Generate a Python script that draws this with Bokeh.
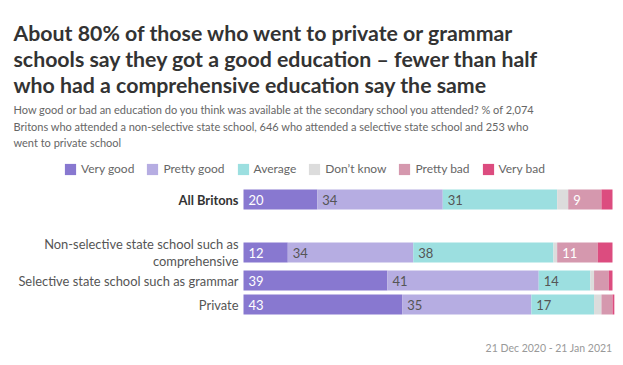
from bokeh.plotting import figure
from bokeh.models import ColumnDataSource, Range1d, Label, Legend, LegendItem
from bokeh.core.properties import value
from bokeh.embed import file_html
from bokeh.resources import INLINE

# ---- data ----
categories = ["All Britons",
              "Non-selective state school such as\ncomprehensive",
              "Selective state school such as grammar",
              "Private"]
responses = ["Very good", "Pretty good", "Average", "Don\u2019t know", "Pretty bad", "Very bad"]
very_good = [20, 12, 39, 43]
pretty_good = [34, 34, 41, 35]
average = [31, 38, 14, 17]
dont_know = [3, 1, 1, 2]
pretty_bad = [9, 11, 4, 3]
very_bad = [3, 4, 1, 0.5]

title_lines = ["About 80% of those who went to private or grammar",
               "schools say they got a good education \u2013 fewer than half",
               "who had a comprehensive education say the same"]
subtitle_lines = ["How good or bad an education do you think was available at the secondary school you attended? % of 2,074",
                  "Britons who attended a non-selective state school, 646 who attended a selective state school and 253 who",
                  "went to private school"]
footer = "21 Dec 2020 - 21 Jan 2021"

# ---- layout / style ----
W, H = 615, 357
FONT = "Lato"
colors = ["#8878d0", "#b6ade2", "#9cdfe0", "#dcdcdc", "#d598ae", "#dc4c7f"]
label_colors = ["white", "#555555", "#555555", "#555555", "white", "white"]
row_y = [199, 252, 280, 304]
bar_h = 20
x0_px, x100_px = 243, 612
ppu = (x100_px - x0_px) / 100.0

keys = ["very_good", "pretty_good", "average", "dont_know", "pretty_bad", "very_bad"]
series = [very_good, pretty_good, average, dont_know, pretty_bad, very_bad]
src = ColumnDataSource(dict(y=row_y, **{k: v for k, v in zip(keys, series)}))

p = figure(width=W, height=H, output_backend="svg", toolbar_location=None,
           x_range=Range1d(-x0_px / ppu, 100 + (W - x100_px) / ppu),
           y_range=Range1d(H, 0),
           x_axis_type=None, y_axis_type=None, min_border=0)
p.outline_line_color = None
p.xgrid.visible = False
p.ygrid.visible = False
p.background_fill_color = "white"

rends = p.hbar_stack(keys, y="y", height=bar_h, color=colors, line_color=None, source=src)

# value labels
lx, ly, lt, lc = [], [], [], []
for i in range(len(categories)):
    cum = 0
    for j, s in enumerate(series):
        v = s[i]
        if v >= 8:
            lx.append(cum); ly.append(row_y[i]); lt.append(str(v)); lc.append(label_colors[j])
        cum += v
p.text(x="x", y="y", text="t", text_color="c",
       source=ColumnDataSource(dict(x=lx, y=ly, t=lt, c=lc)),
       x_offset=5, text_align="left", text_baseline="middle",
       text_font=value(FONT), text_font_size="13px")

# category labels
p.text(x=[0] * len(categories), y=row_y, text=categories,
       text_color=["#333333"] + ["#555555"] * 3,
       text_font_style=["bold"] + ["normal"] * 3,
       x_offset=-5, text_align="right", text_baseline="middle",
       text_font=value(FONT), text_font_size="12.9px", text_line_height=1.12)

# legend
legend = Legend(items=[LegendItem(label=r, renderers=[rd]) for r, rd in zip(responses, rends)],
                orientation="horizontal", location=(63, 181),
                glyph_width=14, glyph_height=14, label_standoff=4, spacing=11,
                padding=0, margin=0, border_line_color=None, background_fill_alpha=0,
                label_text_font=FONT, label_text_font_size="12px", label_text_color="#666666",
                label_height=14)
p.add_layout(legend)

# title, subtitle, footer
for i, t in enumerate(title_lines):
    p.add_layout(Label(x=13, y=32 + 26 * i, x_units="screen", y_units="data", text=t,
                       text_font=FONT, text_font_size="21.3px", text_font_style="bold",
                       text_color="#333333", text_baseline="alphabetic"))
for i, t in enumerate(subtitle_lines):
    p.add_layout(Label(x=13, y=109 + 16.5 * i, x_units="screen", y_units="data", text=t,
                       text_font=FONT, text_font_size="11px",
                       text_color="#666666", text_baseline="alphabetic"))
p.add_layout(Label(x=x100_px, y=347, x_units="screen", y_units="data", text=footer,
                   text_font=FONT, text_font_size="10.5px", text_align="right",
                   text_color="#999999", text_baseline="alphabetic"))

open("out.html", "w").write(file_html(p, INLINE))
